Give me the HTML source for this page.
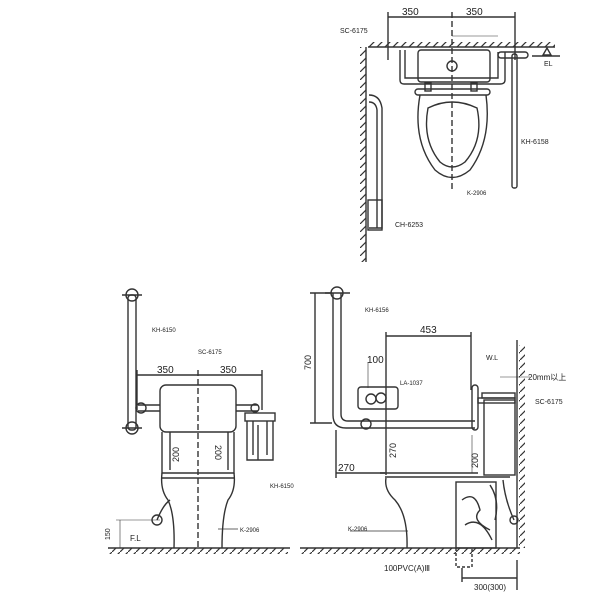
<!DOCTYPE html>
<html><head><style>html,body{margin:0;padding:0;background:#fff}svg{display:block}text{font-family:"Liberation Sans",sans-serif;fill:#222}</style></head><body>
<svg width="600" height="600" viewBox="0 0 600 600" xmlns="http://www.w3.org/2000/svg">
<defs>
<pattern id="h" width="8" height="8" patternUnits="userSpaceOnUse"><path d="M0 8 L8 0" stroke="#333" stroke-width="1.2"/></pattern>
</defs>
<g stroke="#333" fill="none" stroke-width="1.4">
<!-- TOP VIEW -->
<line x1="388" y1="17" x2="515" y2="17"/>
<line x1="388" y1="12" x2="388" y2="60"/><line x1="452" y1="12" x2="452" y2="190" stroke-dasharray="6 3"/><line x1="515" y1="12" x2="515" y2="60"/>
<line x1="452" y1="36" x2="498" y2="36" stroke-width="0.6"/>
<rect x="368" y="42" width="187" height="5" fill="url(#h)" stroke="none"/>
<line x1="368" y1="47" x2="555" y2="47"/>
<rect x="360" y="47" width="6" height="215" fill="url(#h)" stroke="none"/>
<line x1="366" y1="47" x2="366" y2="262"/>
<path d="M400 50 V80 Q400 84 404 84 H500 Q505 84 505 80 V52"/>
<path d="M405 50 V78 H498 V52"/>
<rect x="418" y="50" width="72" height="32" rx="3"/>
<circle cx="452" cy="66" r="5"/>
<rect x="425" y="83" width="6" height="8"/><rect x="471" y="83" width="6" height="8"/>
<rect x="415" y="89" width="75" height="6" rx="3"/>
<path d="M420 95 Q412 140 435 170 Q452 185 470 170 Q492 140 486 95"/>
<path d="M428 108 Q422 140 440 162 Q452 172 465 162 Q484 140 477 108 Q452 96 428 108 Z"/>
<rect x="512" y="54" width="5" height="134" rx="2"/>
<rect x="498" y="52" width="30" height="6" rx="3"/>
<path d="M369 95 Q380 95 382 108 V228 H369"/><path d="M369 102 Q376 102 377 110 V228"/>
<rect x="368" y="200" width="14" height="30"/>
<path d="M543 55 L547 48 L551 55 Z"/>
<line x1="532" y1="56" x2="560" y2="56"/>
<!-- LEFT ELEVATION -->
<rect x="128" y="295" width="8" height="135" rx="3"/>
<circle cx="132" cy="295" r="6"/><circle cx="132" cy="428" r="6"/>
<line x1="122" y1="295" x2="142" y2="295"/><line x1="122" y1="428" x2="142" y2="428"/>
<line x1="137" y1="375" x2="262" y2="375"/><line x1="137" y1="370" x2="137" y2="410"/><line x1="262" y1="370" x2="262" y2="410"/>
<line x1="198" y1="370" x2="198" y2="550" stroke-dasharray="6 3"/>
<rect x="160" y="385" width="76" height="47" rx="6"/>
<path d="M138 405 H160 M138 411 H160 M236 405 H258 M236 411 H258"/>
<circle cx="141" cy="408" r="5"/><circle cx="255" cy="408" r="4"/>
<rect x="245" y="413" width="30" height="8"/><path d="M247 421 V460 H273 V421 M253 421 V455 M267 421 V455 M258 425 V460"/>
<path d="M162 432 V473 H234 V432"/><path d="M170 432 V470 M228 432 V470"/>
<path d="M162 473 Q160 490 168 500 Q175 515 174 548"/><path d="M234 473 Q236 490 228 500 Q222 515 222 548"/>
<line x1="162" y1="478" x2="234" y2="478"/>
<circle cx="157" cy="520" r="5"/><path d="M157 520 Q163 505 170 500"/>
<line x1="116" y1="520" x2="160" y2="520" stroke-width="0.6"/>
<line x1="120" y1="520" x2="120" y2="548" stroke-width="0.6"/>
<rect x="108" y="548" width="180" height="6" fill="url(#h)" stroke="none"/>
<line x1="108" y1="548" x2="290" y2="548"/>
<line x1="238" y1="529" x2="218" y2="529" stroke-width="0.7"/>
<!-- RIGHT ELEVATION -->
<path d="M333 293 V415 Q333 428 346 428 H475 M341 293 V414 Q341 421 348 421 H475"/>
<circle cx="337" cy="293" r="6"/><line x1="325" y1="293" x2="350" y2="293"/>
<circle cx="366" cy="424" r="5"/>
<line x1="315" y1="293" x2="315" y2="423"/><line x1="310" y1="293" x2="332" y2="293"/><line x1="310" y1="423" x2="332" y2="423"/>
<line x1="386" y1="336" x2="471" y2="336"/><line x1="386" y1="332" x2="386" y2="475"/><line x1="471" y1="332" x2="471" y2="390"/>
<line x1="368" y1="362" x2="368" y2="388" stroke-width="0.6"/>
<rect x="358" y="387" width="40" height="22" rx="3"/><circle cx="371" cy="399" r="5"/><circle cx="381" cy="398" r="5"/>
<rect x="472" y="385" width="6" height="45" rx="3"/>
<rect x="484" y="400" width="31" height="75"/><rect x="478" y="398" width="37" height="5"/>
<rect x="482" y="393" width="33" height="5"/>
<line x1="336" y1="473" x2="385" y2="473"/><line x1="336" y1="430" x2="336" y2="478"/>
<path d="M380 473 H478 M385 477 H510"/>
<line x1="472" y1="435" x2="472" y2="473" stroke-width="0.6"/>
<path d="M386 478 Q384 490 395 500 Q408 515 407 548"/>
<rect x="456" y="482" width="40" height="66"/>
<path d="M462 500 Q475 490 480 510 Q470 520 490 530 M465 525 Q480 515 492 540 M490 485 Q500 500 495 520"/>
<path d="M503 480 Q505 500 514 520"/><circle cx="514" cy="520" r="4"/>
<rect x="519" y="345" width="6" height="203" fill="url(#h)" stroke="none"/>
<line x1="517" y1="340" x2="517" y2="548"/>
<rect x="300" y="548" width="220" height="6" fill="url(#h)" stroke="none"/>
<line x1="300" y1="548" x2="520" y2="548"/>
<path d="M456 548 V567 H472 V548" stroke-dasharray="3 2"/>
<line x1="462" y1="578" x2="517" y2="578"/><line x1="462" y1="568" x2="462" y2="582"/><line x1="517" y1="560" x2="517" y2="590"/>
<line x1="500" y1="377" x2="530" y2="377" stroke-width="0.6"/>
<line x1="350" y1="531" x2="408" y2="531" stroke-width="0.7"/>
</g>
<g font-size="10">
<text x="402" y="15">350</text><text x="466" y="15">350</text>
<text x="340" y="33" font-size="7">SC-6175</text>
<text x="544" y="66" font-size="7">EL</text>
<text x="521" y="144" font-size="7">KH-6158</text>
<text x="467" y="195" font-size="6">K-2906</text>
<text x="395" y="227" font-size="7">CH-6253</text>
<text x="152" y="332" font-size="6">KH-6150</text>
<text x="198" y="354" font-size="6">SC-6175</text>
<text x="157" y="373">350</text><text x="220" y="373">350</text>
<text x="179" y="462" font-size="9" transform="rotate(-90 179 462)">200</text>
<text x="215" y="445" font-size="9" transform="rotate(90 215 445)">200</text>
<text x="270" y="488" font-size="6">KH-6150</text>
<text x="240" y="532" font-size="6">K-2906</text>
<text x="130" y="541" font-size="8">F.L</text>
<text x="110" y="540" font-size="7" transform="rotate(-90 110 540)">150</text>
<text x="311" y="370" font-size="9" transform="rotate(-90 311 370)">700</text>
<text x="365" y="312" font-size="6">KH-6156</text>
<text x="420" y="333">453</text>
<text x="367" y="363">100</text>
<text x="400" y="385" font-size="6">LA-1037</text>
<text x="486" y="360" font-size="7">W.L</text>
<text x="528" y="380" font-size="8">20mm以上</text>
<text x="535" y="404" font-size="7">SC-6175</text>
<text x="396" y="458" font-size="9" transform="rotate(-90 396 458)">270</text>
<text x="478" y="468" font-size="9" transform="rotate(-90 478 468)">200</text>
<text x="338" y="471">270</text>
<text x="348" y="531" font-size="6">K-2906</text>
<text x="384" y="571" font-size="8">100PVC(A)Ⅲ</text>
<text x="474" y="590" font-size="8">300(300)</text>
</g>
</svg>
</body></html>
